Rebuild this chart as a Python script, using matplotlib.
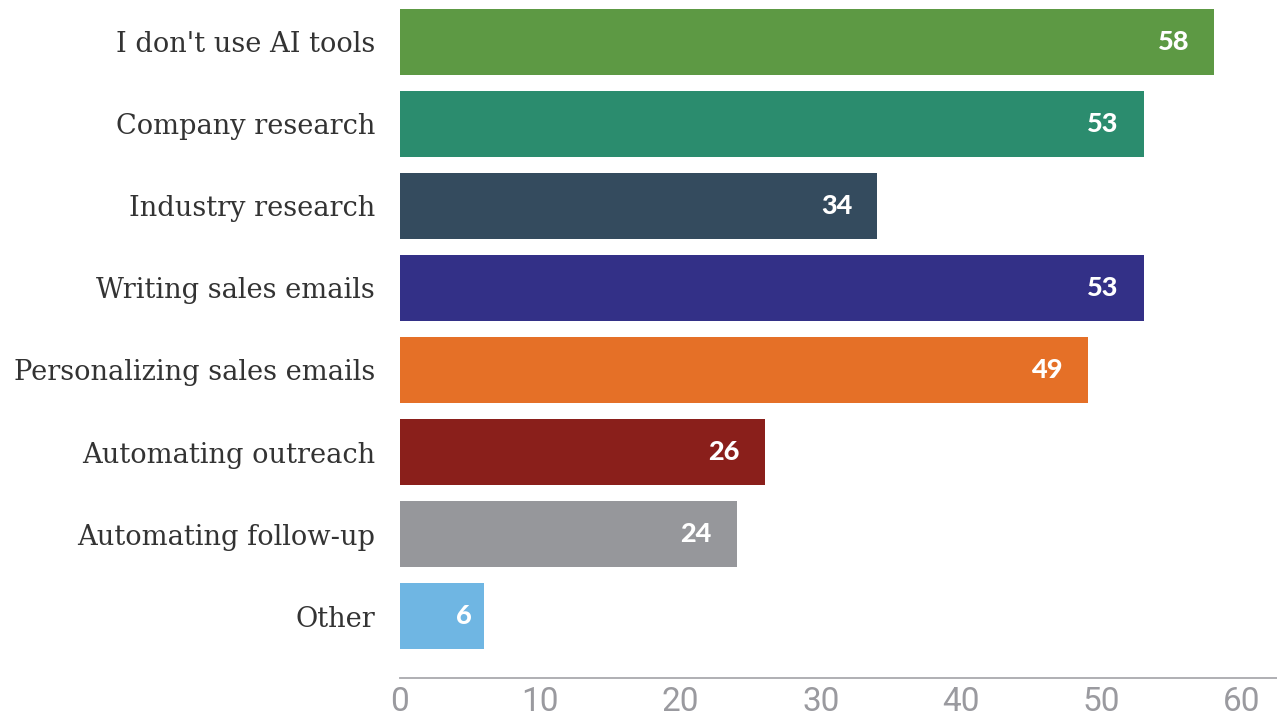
import matplotlib
matplotlib.use("Agg")
import matplotlib.pyplot as plt
from matplotlib.transforms import offset_copy

categories = [
    "I don't use AI tools",
    "Company research",
    "Industry research",
    "Writing sales emails",
    "Personalizing sales emails",
    "Automating outreach",
    "Automating follow-up",
    "Other",
]
values = [58, 53, 34, 53, 49, 26, 24, 6]
colors = ["#5d9944", "#2b8c6e", "#344b5e", "#333087",
          "#e57027", "#8a1f1b", "#96979b", "#6fb6e3"]
xticks = [0, 10, 20, 30, 40, 50, 60]

W, H = 1277, 719
fig = plt.figure(figsize=(W / 100, H / 100), dpi=100)
ax = fig.add_axes([400 / W, (H - 678) / H, 877 / W, 678 / H])

ypos = list(range(len(categories)))
ax.barh(ypos, values, height=0.805, color=colors, zorder=2)

ax.set_xlim(0, 62.49)
ax.set_ylim(7.756, -0.512)

ax.set_yticks(ypos)
ax.set_yticklabels(categories, family="DejaVu Serif", fontsize=19.6, color="#333333",
                   va="center_baseline")
ax.tick_params(axis="y", length=0, pad=18)

ax.set_xticks(xticks)
ax.set_xticklabels([str(t) for t in xticks], family="Roboto", fontsize=24, color="#9a9a9f")
ax.tick_params(axis="x", length=0, pad=6)

for s in ("top", "right", "left"):
    ax.spines[s].set_visible(False)
ax.spines["bottom"].set_color("#a9a9ae")
ax.spines["bottom"].set_linewidth(1.3)

for y, v in zip(ypos, values):
    label = str(v)
    # inset from the bar end grows with the label length
    tr = offset_copy(ax.transData, fig=fig, x=-9.0 * len(label), y=1.5, units="points")
    ax.text(v, y, label, transform=tr, ha="right", va="center_baseline",
            family="Lato", fontweight="black", fontsize=19.5, color="white", zorder=3)

fig.savefig("out.png", dpi=100)
